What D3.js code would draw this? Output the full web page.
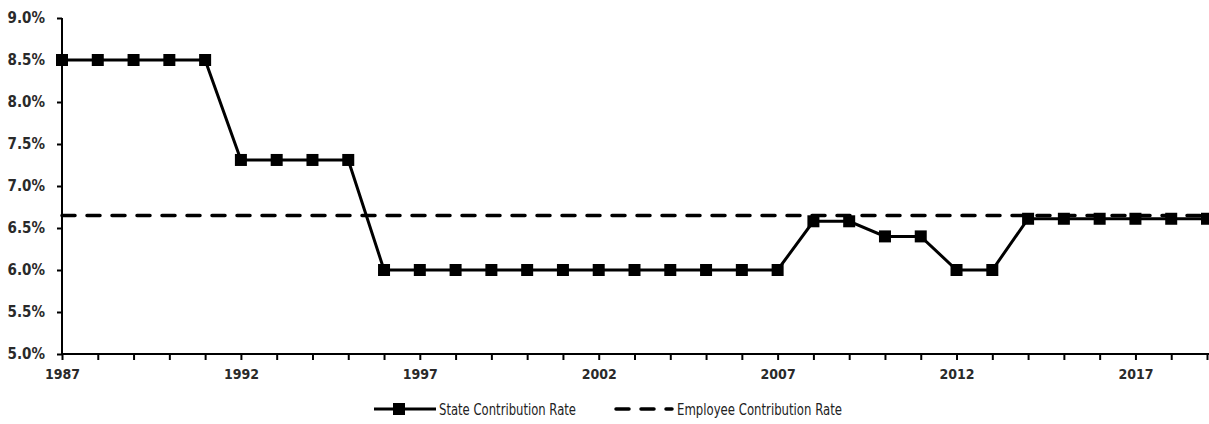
<!DOCTYPE html>
<html>
<head>
<meta charset="utf-8">
<script src="https://cdn.jsdelivr.net/npm/d3@7"></script>
<style>
  html, body { margin: 0; padding: 0; background: #fff; }
  svg text { font-family: "DejaVu Sans Condensed", "DejaVu Sans", sans-serif; font-stretch: condensed; fill: #222; }
</style>
</head>
<body>
<svg id="chart" width="1209" height="424"></svg>
<script>
// Contribution rates by fiscal year
const years = d3.range(1987, 2020);
const stateRate = [
  8.5, 8.5, 8.5, 8.5, 8.5,          // 1987-1991
  7.31, 7.31, 7.31, 7.31,           // 1992-1995
  6.0, 6.0, 6.0, 6.0, 6.0, 6.0,     // 1996-2001
  6.0, 6.0, 6.0, 6.0, 6.0, 6.0,     // 2002-2007
  6.58, 6.58, 6.4, 6.4,             // 2008-2011
  6.0, 6.0,                         // 2012-2013
  6.61, 6.61, 6.61, 6.61, 6.61, 6.61 // 2014-2019
];
const employeeRate = 6.65;
const yTicks = [5.0, 5.5, 6.0, 6.5, 7.0, 7.5, 8.0, 8.5, 9.0];
const xLabelYears = [1987, 1992, 1997, 2002, 2007, 2012, 2017];
const seriesNames = ["State Contribution Rate", "Employee Contribution Rate"];

const svg = d3.select("#chart");
const x = d3.scaleLinear().domain([1987, 2019]).range([62, 1207]);
const y = d3.scaleLinear().domain([5, 9]).range([354, 18]);

// y axis
const yAxis = d3.axisLeft(y).tickValues(yTicks).tickSize(5).tickPadding(12)
  .tickFormat(d => d.toFixed(1) + "%");
const gy = svg.append("g").attr("transform", `translate(${x.range()[0]},0)`).call(yAxis);
gy.select(".domain").attr("stroke", "#000").attr("stroke-width", 2).attr("d", `M0,${y(9)}V${y(5)}`);
gy.selectAll(".tick line").attr("stroke", "#000").attr("stroke-width", 2);
gy.selectAll(".tick text").attr("font-size", 15).attr("font-weight", "bold").style("fill", "#2a2a2a");

// x axis: a tick every year, labels every five years
const xAxis = d3.axisBottom(x).tickValues(years).tickSize(6).tickPadding(9)
  .tickFormat(d => xLabelYears.includes(d) ? String(d) : "");
const gx = svg.append("g").attr("transform", `translate(0,${y(5)})`).call(xAxis);
gx.select(".domain").attr("stroke", "#000").attr("stroke-width", 2).attr("d", `M${x(1987)},0H${x(2019)+2}`);
gx.selectAll(".tick line").attr("stroke", "#000").attr("stroke-width", 2);
gx.selectAll(".tick text").attr("font-size", 14).attr("font-weight", "bold").style("fill", "#2a2a2a");

// employee rate: dashed reference line
svg.append("line")
  .attr("x1", x(1987)).attr("x2", x(2019))
  .attr("y1", y(employeeRate)).attr("y2", y(employeeRate))
  .attr("stroke", "#000").attr("stroke-width", 3.5)
  .attr("stroke-dasharray", "13,12").attr("stroke-linecap", "round");

// state rate: line with square markers
const stateData = years.map((yr, i) => ({ year: yr, value: stateRate[i] }));
svg.append("path").datum(stateData)
  .attr("fill", "none").attr("stroke", "#000").attr("stroke-width", 3)
  .attr("d", d3.line().x(d => x(d.year)).y(d => y(d.value)));
const sz = 12;
svg.append("g").selectAll("rect").data(stateData).join("rect")
  .attr("x", d => x(d.year) - sz / 2).attr("y", d => y(d.value) - sz / 2)
  .attr("width", sz).attr("height", sz).attr("fill", "#000");

// legend
const ly = 409;
const leg = svg.append("g");
leg.append("line").attr("x1", 374).attr("x2", 436).attr("y1", ly).attr("y2", ly)
  .attr("stroke", "#000").attr("stroke-width", 3);
leg.append("rect").attr("x", 399 - sz / 2).attr("y", ly - sz / 2).attr("width", sz).attr("height", sz).attr("fill", "#000");
leg.append("text").attr("x", 439).attr("y", ly + 5.5).attr("font-size", 15)
  .attr("textLength", 137).attr("lengthAdjust", "spacingAndGlyphs").text(seriesNames[0]);
leg.append("line").attr("x1", 616).attr("x2", 672).attr("y1", ly).attr("y2", ly)
  .attr("stroke", "#000").attr("stroke-width", 3.5).attr("stroke-dasharray", "13,12").attr("stroke-linecap", "round");
leg.append("text").attr("x", 677).attr("y", ly + 5.5).attr("font-size", 15)
  .attr("textLength", 165).attr("lengthAdjust", "spacingAndGlyphs").text(seriesNames[1]);
</script>
</body>
</html>
